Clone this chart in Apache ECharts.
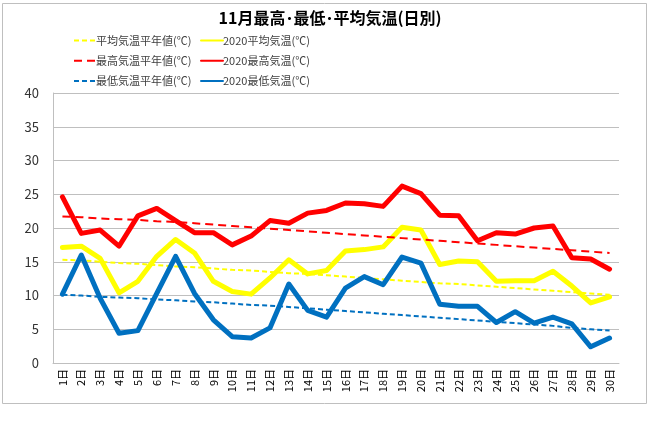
<!DOCTYPE html>
<html><head><meta charset="utf-8">
<script src="https://cdn.jsdelivr.net/npm/echarts@6/dist/echarts.min.js"></script>
<style>html,body{margin:0;padding:0;background:#fff}#c{width:660px;height:435px}</style>
</head><body><div id="c"></div>
<script>
const categories = ['1日','2日','3日','4日','5日','6日','7日','8日','9日','10日','11日','12日','13日','14日','15日','16日','17日','18日','19日','20日','21日','22日','23日','24日','25日','26日','27日','28日','29日','30日'];
const avgNormal = [15.3,15.2,15.0,14.8,14.7,14.5,14.3,14.2,14.0,13.8,13.7,13.5,13.3,13.2,13.0,12.8,12.6,12.4,12.2,12.0,11.8,11.7,11.5,11.3,11.1,10.9,10.7,10.5,10.3,10.1];
const avg2020 = [17.1,17.3,15.5,10.4,12.1,15.8,18.3,16.3,12.1,10.6,10.2,12.6,15.3,13.2,13.7,16.6,16.8,17.2,20.1,19.7,14.6,15.1,15.0,12.1,12.2,12.2,13.6,11.4,8.9,9.8];
const maxNormal = [21.7,21.6,21.4,21.3,21.2,21.0,20.9,20.7,20.5,20.3,20.1,19.9,19.7,19.5,19.3,19.1,18.9,18.7,18.5,18.3,18.1,17.9,17.7,17.5,17.3,17.1,16.9,16.7,16.5,16.3];
const max2020 = [24.6,19.2,19.7,17.3,21.8,22.9,21.1,19.3,19.3,17.5,18.8,21.1,20.7,22.2,22.6,23.7,23.6,23.2,26.2,25.1,21.9,21.8,18.1,19.3,19.1,20.0,20.3,15.6,15.4,13.9];
const minNormal = [10.1,10.0,9.8,9.7,9.6,9.4,9.3,9.1,9.0,8.8,8.6,8.5,8.3,8.1,7.9,7.7,7.5,7.3,7.1,6.9,6.7,6.5,6.3,6.1,5.9,5.7,5.5,5.2,5.0,4.8];
const min2020 = [10.2,16.0,9.6,4.4,4.8,10.3,15.8,10.3,6.4,3.9,3.7,5.2,11.7,7.8,6.8,11.1,12.8,11.6,15.7,14.8,8.7,8.4,8.4,6.0,7.6,5.9,6.8,5.8,2.4,3.7];
const yTicks = {min:0, max:40, interval:5};

const FONT = '"Noto Sans CJK JP", sans-serif';
const chart = echarts.init(document.getElementById('c'), null, {renderer:'canvas'});
function line(name, data, color, width, dashed, dash){
  return {name, type:'line', data, symbol:'circle', symbolSize:0, showSymbol:false, animation:false,
    lineStyle:{color, width, type: dashed ? dash : 'solid', cap: dashed ? 'butt':'round', join:'round'},
    itemStyle:{color}, emphasis:{disabled:true}};
}
const legendCommon = {orient:'vertical', itemWidth:22, itemHeight:14, itemGap:9, padding:0,
  itemStyle:{opacity:0},
  textStyle:{fontFamily:FONT, fontSize:11, color:'#404040', padding:[0,0,0,-5]}, selectedMode:false};
chart.setOption({
  backgroundColor:'#fff',
  animation:false,
  title:{text:'11月最高･最低･平均気温(日別)', left:325, textAlign:'center', top:5,
    textStyle:{fontFamily:FONT, fontSize:16, fontWeight:'bold', color:'#000'}},
  graphic:[{type:'rect', shape:{x:2.5, y:3.5, width:644, height:400}, style:{fill:'none', stroke:'#bfbfbf', lineWidth:1}, silent:true, z:-10}],
  legend:[
    Object.assign({}, legendCommon, {left:73, top:35, data:['平均気温平年値(℃)','最高気温平年値(℃)','最低気温平年値(℃)']}),
    Object.assign({}, legendCommon, {left:200, top:35, data:['2020平均気温(℃)','2020最高気温(℃)','2020最低気温(℃)']})
  ],
  grid:{left:53, right:41, top:93, bottom:72, containLabel:false},
  xAxis:{type:'category', data:categories, boundaryGap:true,
    axisLine:{show:true, lineStyle:{color:'#bfbfbf', width:1}},
    axisTick:{show:false},
    axisLabel:{interval:0, rotate:90, fontFamily:FONT, fontSize:11, color:'#000', margin:6}},
  yAxis:{type:'value', min:yTicks.min, max:yTicks.max, interval:yTicks.interval,
    axisLine:{show:true, lineStyle:{color:'#bfbfbf', width:1}},
    axisTick:{show:false},
    splitLine:{show:true, lineStyle:{color:'#bfbfbf', width:1}},
    axisLabel:{fontFamily:FONT, fontSize:13, color:'#333', margin:14}},
  series:[
    line('平均気温平年値(℃)', avgNormal, '#FFFF00', 2, true, [5,3]),
    line('2020平均気温(℃)', avg2020, '#FFFF00', 5, false),
    line('最高気温平年値(℃)', maxNormal, '#FF0000', 2, true, [8,5]),
    line('2020最高気温(℃)', max2020, '#FF0000', 5, false),
    line('最低気温平年値(℃)', minNormal, '#0070C0', 2, true, [5,3]),
    line('2020最低気温(℃)', min2020, '#0070C0', 5, false)
  ]
});
</script></body></html>
